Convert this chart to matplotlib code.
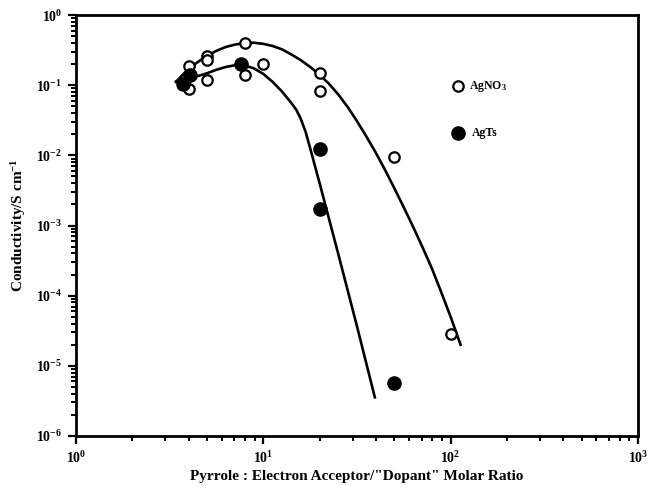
import matplotlib
matplotlib.use("Agg")
import matplotlib.pyplot as plt
from matplotlib.ticker import LogLocator, FixedLocator, FixedFormatter, NullFormatter

plt.rcParams['font.family'] = ['Liberation Serif', 'DejaVu Serif']
plt.rcParams['font.weight'] = 'bold'
plt.rcParams['mathtext.fontset'] = 'custom'
plt.rcParams['mathtext.rm'] = 'Liberation Serif:bold'
plt.rcParams['mathtext.it'] = 'Liberation Serif:bold'
plt.rcParams['mathtext.bf'] = 'Liberation Serif:bold'

# measured points
agno3_x = [4, 4, 5, 5, 5, 8, 8, 10, 20, 20, 50, 100]
agno3_y = [0.19, 0.088, 0.26, 0.23, 0.12, 0.40, 0.14, 0.20, 0.15, 0.082, 0.0095, 2.8e-5]

agts_x = [3.75, 4.05, 7.6, 20, 20, 50]
agts_y = [0.105, 0.14, 0.20, 0.0123, 0.0017, 5.7e-6]

# fitted curves
agno3_fit_x = [3.42, 3.98, 4.47, 5.01, 5.62, 6.31, 7.08, 7.94, 8.91, 10, 11.2, 12.6, 14.1,
               15.8, 17.8, 20.0, 22.4, 25.1, 28.2, 31.6, 35.5, 39.8, 44.7, 50.1, 56.2,
               63.1, 70.8, 79.4, 89.1, 100, 113]
agno3_fit_y = [0.112, 0.170, 0.214, 0.263, 0.309, 0.351, 0.380, 0.398, 0.403, 0.389, 0.363,
               0.324, 0.275, 0.229, 0.182, 0.141, 0.105, 0.0741, 0.049, 0.0309, 0.0186,
               0.011, 0.00617, 0.00339, 0.00182, 9.55e-4, 4.9e-4, 2.45e-4, 1.12e-4, 5.0e-5, 2.0e-5]

agts_fit_x = [3.42, 3.98, 4.47, 5.01, 5.62, 6.31, 7.08, 7.94, 8.91, 10, 11.2, 12.6, 14.1,
              15.0, 15.8, 16.8, 17.8, 20.0, 25.1, 31.6, 39.4]
agts_fit_y = [0.112, 0.123, 0.135, 0.148, 0.166, 0.182, 0.193, 0.191, 0.174, 0.145, 0.112,
              0.081, 0.056, 0.0447, 0.0339, 0.0219, 0.0126, 0.00398, 3.98e-4, 3.7e-5, 3.55e-6]

x_ticks = [1, 10, 100, 1000]
x_labels = [r'$10^{0}$', r'$10^{1}$', r'$10^{2}$', r'$10^{3}$']
y_ticks = [1e-6, 1e-5, 1e-4, 1e-3, 1e-2, 1e-1, 1]
y_labels = [r'$10^{-6}$', r'$10^{-5}$', r'$10^{-4}$', r'$10^{-3}$', r'$10^{-2}$', r'$10^{-1}$', r'$10^{0}$']

fig = plt.figure(figsize=(6.49, 4.86), dpi=100)
ax = fig.add_axes([0.117, 0.103, 0.866, 0.866])

ax.plot(agno3_fit_x, agno3_fit_y, color='black', lw=1.9)
ax.plot(agts_fit_x, agts_fit_y, color='black', lw=1.9)

ax.plot(agno3_x, agno3_y, 'o', mfc='white', mec='black', mew=1.6, ms=7.5, ls='none')
ax.plot(agts_x, agts_y, 'o', mfc='black', mec='black', ms=9.5, ls='none')

ax.set_xscale('log')
ax.set_yscale('log')
ax.set_xlim(1, 1000)
ax.set_ylim(1e-6, 1)

ax.xaxis.set_major_locator(FixedLocator(x_ticks))
ax.xaxis.set_major_formatter(FixedFormatter(x_labels))
ax.yaxis.set_major_locator(FixedLocator(y_ticks))
ax.yaxis.set_major_formatter(FixedFormatter(y_labels))
ax.xaxis.set_minor_locator(LogLocator(base=10, subs=range(2, 10), numticks=20))
ax.yaxis.set_minor_locator(LogLocator(base=10, subs=range(2, 10), numticks=20))
ax.xaxis.set_minor_formatter(NullFormatter())
ax.yaxis.set_minor_formatter(NullFormatter())

ax.tick_params(which='major', direction='out', length=6, width=1.6, labelsize=10, pad=4)
ax.tick_params(which='minor', direction='out', length=3.5, width=1.4)
ax.tick_params(top=False, right=False, which='both')
for s in ax.spines.values():
    s.set_linewidth(2.0)

ax.set_xlabel('Pyrrole : Electron Acceptor/"Dopant" Molar Ratio', fontsize=11, fontweight='bold', labelpad=3)
ax.set_ylabel(r'Conductivity/S cm$^{-1}$', fontsize=11, fontweight='bold', labelpad=6)

# legend drawn by hand like the original
ax.plot([0.68], [0.831], 'o', transform=ax.transAxes, mfc='white', mec='black', mew=1.6, ms=7.5, clip_on=False)
ax.text(0.70, 0.831, r'AgNO$_3$', transform=ax.transAxes, fontsize=8.5, va='center', ha='left')
ax.plot([0.68], [0.72], 'o', transform=ax.transAxes, mfc='black', mec='black', ms=9.5, clip_on=False)
ax.text(0.704, 0.72, 'AgTs', transform=ax.transAxes, fontsize=8.5, va='center', ha='left')

fig.savefig('out.png', dpi=100)
